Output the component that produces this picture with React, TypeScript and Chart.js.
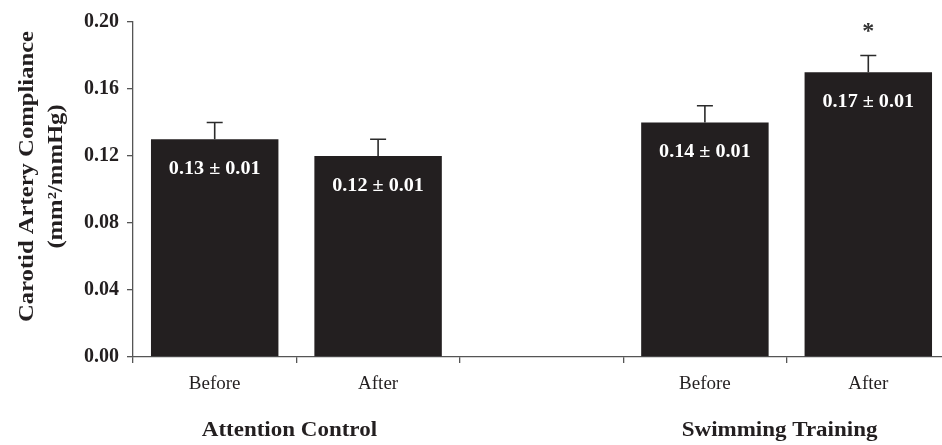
import React, { useEffect, useRef } from "react";
import { Chart, registerables } from "chart.js";

Chart.register(...registerables);

// Category slots: two groups of Before/After separated by an empty slot
const categories = ["Before", "After", "", "Before", "After"];
const compliance: (number | null)[] = [0.13, 0.12, null, 0.14, 0.17];
const sem: (number | null)[] = [0.01, 0.01, null, 0.01, 0.01];
const significant = [false, false, false, false, true];
const groupLabels = ["Attention Control", "Swimming Training"];
const yTicks = [0, 0.04, 0.08, 0.12, 0.16, 0.2];
const yTitle = ["Carotid Artery Compliance", "(mm\u00B2/mmHg)"];

const INK = "#231f20";
const AXIS = "#555555";
const SERIF = "'Liberation Serif', 'Times New Roman', serif";

const annotations = {
  id: "annotations",
  afterDatasetsDraw(chart: any) {
    const { ctx, chartArea } = chart;
    const x = chart.scales.x;
    const y = chart.scales.y;
    const meta = chart.getDatasetMeta(0);

    ctx.save();
    // error bars (upper whisker only)
    ctx.strokeStyle = "#2b2b2b";
    ctx.lineWidth = 1.6;
    compliance.forEach((v, i) => {
      const e = sem[i];
      if (v == null || e == null) return;
      const cx = meta.data[i].x;
      const yTop = y.getPixelForValue(v);
      const yErr = y.getPixelForValue(v + e);
      ctx.beginPath();
      ctx.moveTo(cx, yTop);
      ctx.lineTo(cx, yErr);
      ctx.moveTo(cx - 8, yErr);
      ctx.lineTo(cx + 8, yErr);
      ctx.stroke();

      // value label inside the bar
      ctx.fillStyle = "#ffffff";
      ctx.font = `bold 18px ${SERIF}`;
      ctx.textAlign = "center";
      ctx.textBaseline = "middle";
      ctx.save();
      ctx.translate(cx, yTop + 30);
      ctx.scale(1.12, 1);
      ctx.fillText(`${v.toFixed(2)} \u00B1 ${e.toFixed(2)}`, 0, 0);
      ctx.restore();

      if (significant[i]) {
        ctx.fillStyle = "#333333";
        ctx.font = `bold 24px ${SERIF}`;
        ctx.fillText("*", cx, yErr - 24);
      }
    });

    // group labels under each pair of bars
    ctx.fillStyle = INK;
    ctx.font = `bold 20px ${SERIF}`;
    ctx.textAlign = "center";
    ctx.textBaseline = "middle";
    const groupCenters = [0.5, 3.5];
    groupCenters.forEach((c, gi) => {
      ctx.save();
      ctx.translate(x.getPixelForValue(c) - 7, chartArea.bottom + 74);
      ctx.scale(1.15, 1);
      ctx.fillText(groupLabels[gi], 0, 0);
      ctx.restore();
    });

    // rotated y-axis title, two lines
    const midY = (chartArea.top + chartArea.bottom) / 2 - 13;
    ctx.font = `bold 22px ${SERIF}`;
    const lineX = [27, 56];
    yTitle.forEach((t, li) => {
      ctx.save();
      ctx.translate(lineX[li], midY);
      ctx.rotate(-Math.PI / 2);
      ctx.scale(1.12, 1);
      ctx.fillText(t, 0, 0);
      ctx.restore();
    });
    ctx.restore();
  },
};

export default function App() {
  const canvasRef = useRef<HTMLCanvasElement | null>(null);

  useEffect(() => {
    if (!canvasRef.current) return;
    const chart = new Chart(canvasRef.current, {
      type: "bar",
      data: {
        labels: categories,
        datasets: [
          {
            data: compliance,
            backgroundColor: INK,
            borderWidth: 0,
            barPercentage: 0.78,
            categoryPercentage: 1,
          },
        ],
      },
      options: {
        responsive: false,
        animation: false,
        layout: { padding: { top: 22, right: 10, left: 0, bottom: 0 } },
        plugins: {
          legend: { display: false },
          tooltip: { enabled: false },
        },
        scales: {
          x: {
            offset: true,
            grid: {
              offset: true,
              drawOnChartArea: false,
              drawTicks: true,
              tickLength: 6,
              color: AXIS,
              lineWidth: 1.3,
            },
            border: { color: AXIS, width: 1.3 },
            ticks: {
              color: INK,
              font: { family: SERIF, size: 19 },
              padding: 10,
              maxRotation: 0,
            },
            afterFit: (s: any) => {
              s.height = 88;
            },
          },
          y: {
            min: 0,
            max: 0.2,
            afterBuildTicks: (s: any) => {
              s.ticks = yTicks.map((v) => ({ value: v }));
            },
            grid: {
              drawOnChartArea: false,
              drawTicks: true,
              tickLength: 6,
              color: AXIS,
              lineWidth: 1.3,
            },
            border: { color: AXIS, width: 1.3 },
            ticks: {
              color: INK,
              font: { family: SERIF, size: 20, weight: "bold" },
              padding: 8,
              callback: (v: any) => Number(v).toFixed(2),
            },
            afterFit: (s: any) => {
              s.width = 133;
            },
          },
        },
      },
      plugins: [annotations],
    });
    return () => chart.destroy();
  }, []);

  return (
    <div
      style={{
        position: "fixed",
        left: 0,
        top: 0,
        width: 942,
        height: 445,
        overflow: "hidden",
        background: "#ffffff",
      }}
    >
      <canvas ref={canvasRef} width={960} height={445} style={{ display: "block" }} />
    </div>
  );
}
